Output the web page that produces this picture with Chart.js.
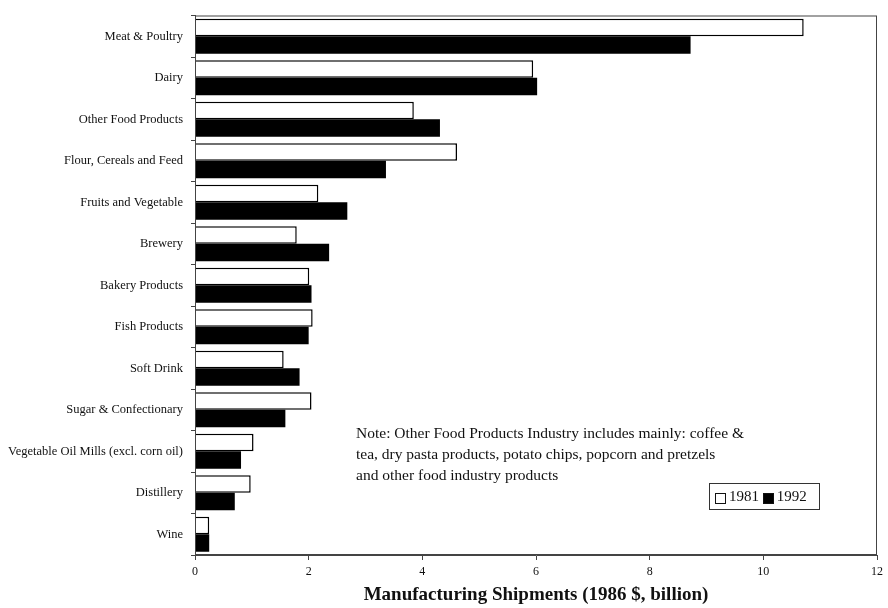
<!DOCTYPE html>
<html>
<head>
<meta charset="utf-8">
<script src="https://cdn.jsdelivr.net/npm/chart.js@4"></script>
<style>
html,body{margin:0;padding:0;background:#fff;}
#wrap{position:relative;width:888px;height:608px;}
canvas{position:absolute;left:0;top:0;}
#note{position:absolute;left:356px;top:422px;font-family:"Liberation Serif",serif;font-size:15.5px;line-height:21px;color:#111;white-space:nowrap;}
#legend{position:absolute;left:709px;top:483px;width:111px;height:27px;border:1px solid #333;box-sizing:border-box;font-family:"Liberation Serif",serif;font-size:15px;color:#111;display:flex;align-items:center;padding-left:5px;}
.sw{display:inline-block;width:9px;height:9px;border:1px solid #111;margin-right:3px;margin-top:4px;}
</style>
</head>
<body>
<div id="wrap">
<canvas id="c" width="888" height="608"></canvas>
<div id="note">Note: Other Food Products Industry includes mainly: coffee &amp;<br>tea, dry pasta products, potato chips, popcorn and pretzels<br>and other food industry products</div>
<div id="legend"><span class="sw" style="background:#fff"></span>1981&nbsp;<span class="sw" style="background:#000"></span>1992</div>
</div>
<script>
const categories = ["Meat & Poultry","Dairy","Other Food Products","Flour, Cereals and Feed","Fruits and Vegetable","Brewery","Bakery Products","Fish Products","Soft Drink","Sugar & Confectionary","Vegetable Oil Mills (excl. corn oil)","Distillery","Wine"];
const values1981 = [10.71,5.95,3.85,4.61,2.17,1.79,2.01,2.07,1.56,2.05,1.03,0.98,0.25];
const values1992 = [8.72,6.02,4.31,3.36,2.68,2.36,2.05,2.00,1.84,1.59,0.81,0.70,0.25];
const xTicks = [0,2,4,6,8,10,12];
const xTitle = "Manufacturing Shipments (1986 $, billion)";

const frame = {
  id:'frame',
  afterDatasetsDraw(chart){
    const a = chart.chartArea, ctx = chart.ctx;
    ctx.save();
    ctx.strokeStyle = '#444';
    ctx.lineWidth = 1;
    ctx.strokeRect(a.left+0.5, a.top+0.5, a.right-a.left-1, a.bottom-a.top-1);
    ctx.restore();
  }
};

new Chart(document.getElementById('c'), {
  type:'bar',
  data:{
    labels:categories,
    datasets:[
      {label:'1981', data:values1981, backgroundColor:'#fff', borderColor:'#000', borderWidth:1.5, categoryPercentage:0.84, barPercentage:1.0},
      {label:'1992', data:values1992, backgroundColor:'#000', borderColor:'#000', borderWidth:0, categoryPercentage:0.84, barPercentage:1.0}
    ]
  },
  options:{
    indexAxis:'y',
    responsive:false,
    animation:false,
    layout:{padding:{top:14,right:8,left:0,bottom:2}},
    plugins:{legend:{display:false},tooltip:{enabled:false}},
    scales:{
      x:{
        min:0,max:12,
        afterBuildTicks(s){ s.ticks = xTicks.map(v=>({value:v})); },
        afterFit(s){ s.height = 51; },
        grid:{drawOnChartArea:false, tickLength:5, color:'#444'},
        border:{color:'#444'},
        ticks:{color:'#111', font:{family:'Liberation Serif', size:12}, padding:5},
        title:{display:true, text:xTitle, color:'#111', font:{family:'Liberation Serif', size:19, weight:'bold'}, padding:{top:3,bottom:0}}
      },
      y:{
        afterFit(s){ s.width = 195; },
        grid:{drawOnChartArea:false, tickLength:4, color:'#444', offset:true},
        border:{color:'#444'},
        ticks:{color:'#111', font:{family:'Liberation Serif', size:12.5}, padding:8}
      }
    }
  },
  plugins:[frame]
});
</script>
</body>
</html>
